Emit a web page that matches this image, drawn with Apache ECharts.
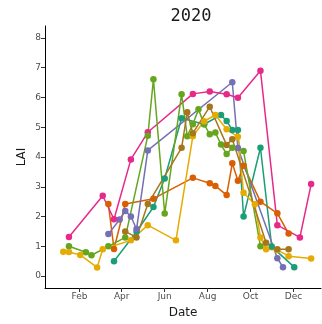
<!DOCTYPE html>
<html><head><meta charset="utf-8">
<script src="https://cdn.jsdelivr.net/npm/echarts@6/dist/echarts.min.js"></script>
<style>html,body{margin:0;padding:0;background:#fff}#c{width:322px;height:324px}</style>
</head><body><div id="c"></div>
<script>
// Day offsets from 2020-01-01 and LAI values
const pinkDays   = [16,64,80,104,128,192,216,240,256,288,312,344,360];
const pinkVals   = [1.31,2.70,1.91,3.92,4.83,6.12,6.20,6.11,5.99,6.90,1.71,1.30,3.09];
const orangeDays = [72,80,96,136,192,216,224,240,248,256,264,288,312,328];
const orangeVals = [2.42,0.91,2.42,2.60,3.30,3.12,3.03,2.72,3.79,3.20,3.71,2.50,2.11,1.43];
const purpleDays = [72,88,96,104,112,128,248,256,312,320];
const purpleVals = [1.41,1.90,2.19,2.00,1.58,4.22,6.51,4.30,0.60,0.30];
const greenDays  = [16,40,48,72,96,128,136,152,176,184,192,200,208,216,224,232,240,248,264,288];
const greenVals  = [1.00,0.80,0.70,1.00,1.30,4.71,6.61,2.10,6.11,4.70,5.10,5.60,5.10,4.76,4.82,4.42,4.10,4.31,4.20,1.00];
const tealDays   = [80,112,136,152,176,208,232,240,248,256,264,288,304,336];
const tealVals   = [0.50,1.49,2.32,3.28,5.30,5.10,5.41,5.21,4.91,4.91,2.00,4.31,0.99,0.30];
const brownDays  = [96,112,128,176,184,192,216,240,248,296,312,328];
const brownVals  = [1.50,1.30,2.42,4.31,5.50,4.80,5.69,4.40,4.60,1.12,0.90,0.90];
const yellowDays = [8,16,32,56,64,104,128,168,192,208,224,240,256,264,280,288,296,312,328,360];
const yellowVals = [0.82,0.81,0.71,0.29,0.90,1.20,1.71,1.20,4.70,5.20,5.41,4.93,4.68,2.80,2.41,1.30,0.90,0.88,0.67,0.59];

const xTickDays   = [31,91,152,213,274,335];
const xTickLabels = ['Feb','Apr','Jun','Aug','Oct','Dec'];
const yTicks      = [0,1,2,3,4,5,6,7,8];

const zip = (d,v) => d.map((x,i)=>[x,v[i]]);
const seriesDefs = [
  ['teal',  '#1B9E77', tealDays,   tealVals],
  ['orange','#D95F02', orangeDays, orangeVals],
  ['purple','#7570B3', purpleDays, purpleVals],
  ['pink',  '#E7298A', pinkDays,   pinkVals],
  ['green', '#66A61E', greenDays,  greenVals],
  ['yellow','#E6AB02', yellowDays, yellowVals],
  ['brown', '#A6761D', brownDays,  brownVals]
];
const FONT = 'DejaVu Sans';
const chart = echarts.init(document.getElementById('c'), null, {renderer:'canvas'});
chart.setOption({
  animation:false,
  backgroundColor:'#fff',
  title:{text:'2020', left:186, top:3, textAlign:'center',
    textStyle:{fontFamily:'DejaVu Sans Mono', fontSize:17, fontWeight:'normal', color:'#1a1a1a'}},
  grid:{left:45, right:1, top:26, bottom:36},
  xAxis:{type:'value', min:-18, max:374,
    name:'Date', nameLocation:'middle', nameGap:19, nameMoveOverlap:false,
    nameTextStyle:{fontFamily:FONT, fontSize:12, color:'#1a1a1a'},
    axisLine:{onZero:false, lineStyle:{color:'#000', width:1}},
    axisTick:{customValues:xTickDays, length:4, lineStyle:{color:'#333'}},
    axisLabel:{customValues:xTickDays, margin:4,
      formatter:v=>xTickLabels[xTickDays.indexOf(v)],
      fontFamily:FONT, fontSize:9, color:'#4d4d4d'},
    splitLine:{show:false}},
  yAxis:{type:'value', min:-0.4, max:8.4,
    name:'LAI', nameLocation:'middle', nameGap:17, nameRotate:90, nameMoveOverlap:false,
    nameTextStyle:{fontFamily:FONT, fontSize:12, color:'#1a1a1a'},
    axisLine:{show:true, onZero:false, lineStyle:{color:'#000', width:1}},
    axisTick:{show:true, customValues:yTicks, length:4, lineStyle:{color:'#333'}},
    axisLabel:{customValues:yTicks, margin:4, fontFamily:FONT, fontSize:9, color:'#4d4d4d'},
    splitLine:{show:false}},
  series:seriesDefs.map(([n,c,d,v])=>({
    name:n, type:'line', data:zip(d,v), symbol:'circle', symbolSize:6.5,
    showAllSymbol:true,
    lineStyle:{color:c, width:1.5}, itemStyle:{color:c}
  }))
});
</script></body></html>
